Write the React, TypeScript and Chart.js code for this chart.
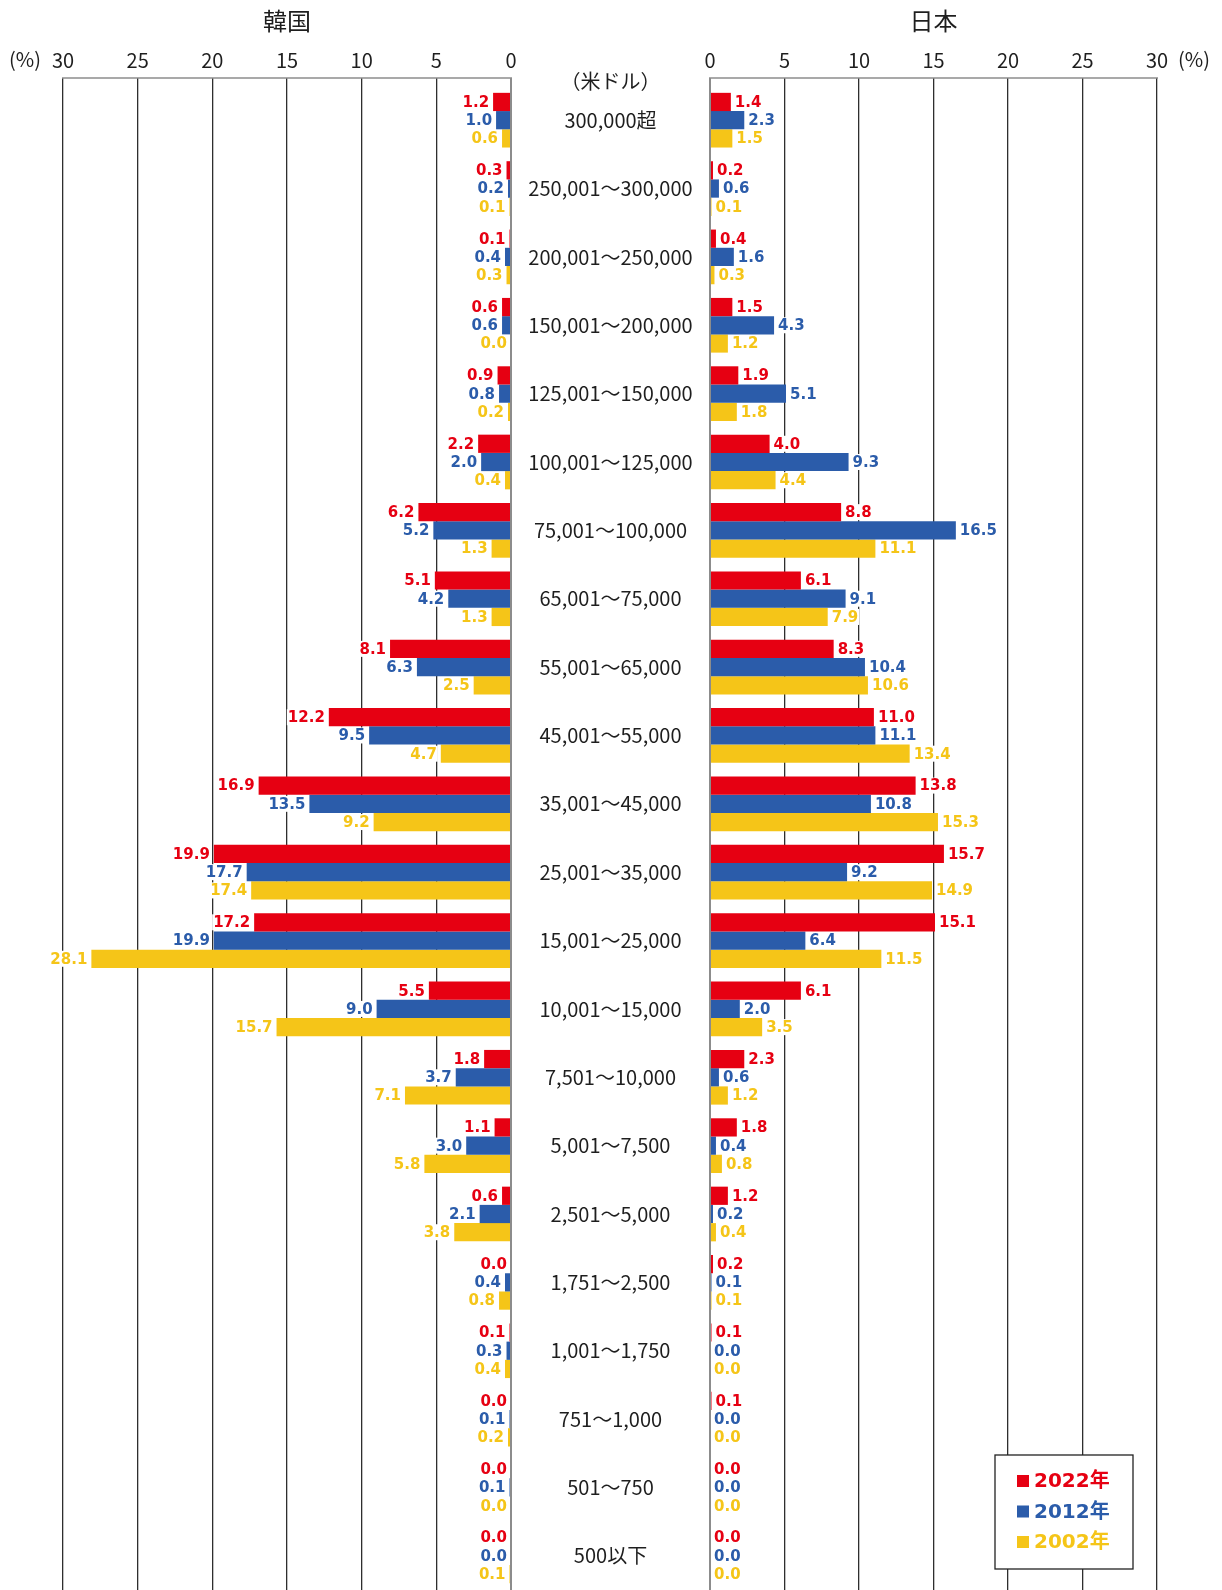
import { useEffect, useRef } from 'react';
import { Chart, registerables } from 'chart.js';

Chart.register(...registerables);

// Household income bands (US dollars), top to bottom
const incomeBands = [
  '300,000超',
  '250,001～300,000',
  '200,001～250,000',
  '150,001～200,000',
  '125,001～150,000',
  '100,001～125,000',
  '75,001～100,000',
  '65,001～75,000',
  '55,001～65,000',
  '45,001～55,000',
  '35,001～45,000',
  '25,001～35,000',
  '15,001～25,000',
  '10,001～15,000',
  '7,501～10,000',
  '5,001～7,500',
  '2,501～5,000',
  '1,751～2,500',
  '1,001～1,750',
  '751～1,000',
  '501～750',
  '500以下',
];

const years = ['2022年', '2012年', '2002年'];

// Share of households (%) — Korea
const korea2022 = [1.2, 0.3, 0.1, 0.6, 0.9, 2.2, 6.2, 5.1, 8.1, 12.2, 16.9, 19.9, 17.2, 5.5, 1.8, 1.1, 0.6, 0.0, 0.1, 0.0, 0.0, 0.0];
const korea2012 = [1.0, 0.2, 0.4, 0.6, 0.8, 2.0, 5.2, 4.2, 6.3, 9.5, 13.5, 17.7, 19.9, 9.0, 3.7, 3.0, 2.1, 0.4, 0.3, 0.1, 0.1, 0.0];
const korea2002 = [0.6, 0.1, 0.3, 0.0, 0.2, 0.4, 1.3, 1.3, 2.5, 4.7, 9.2, 17.4, 28.1, 15.7, 7.1, 5.8, 3.8, 0.8, 0.4, 0.2, 0.0, 0.1];

// Share of households (%) — Japan
const japan2022 = [1.4, 0.2, 0.4, 1.5, 1.9, 4.0, 8.8, 6.1, 8.3, 11.0, 13.8, 15.7, 15.1, 6.1, 2.3, 1.8, 1.2, 0.2, 0.1, 0.1, 0.0, 0.0];
const japan2012 = [2.3, 0.6, 1.6, 4.3, 5.1, 9.3, 16.5, 9.1, 10.4, 11.1, 10.8, 9.2, 6.4, 2.0, 0.6, 0.4, 0.2, 0.1, 0.0, 0.0, 0.0, 0.0];
const japan2002 = [1.5, 0.1, 0.3, 1.2, 1.8, 4.4, 11.1, 7.9, 10.6, 13.4, 15.3, 14.9, 11.5, 3.5, 1.2, 0.8, 0.4, 0.1, 0.0, 0.0, 0.0, 0.0];

const axisMax = 30;
const axisStep = 5;

const seriesColors = ['#E60012', '#2B5CAA', '#F5C518'];

const JP_FONT = "'Noto Sans CJK JP', 'Noto Sans', sans-serif";
const LABEL_FONT = "bold 15px 'DejaVu Sans', 'Noto Sans CJK JP', sans-serif";
const TEXT_COLOR = '#1e1e1e';
const GRID_COLOR = '#2e2e2e';
const ZERO_COLOR = '#8c8c8c';
const TICK_LEN = 8;

function makeDatasets(series: number[][]) {
  return series.map((values, i) => ({
    label: years[i],
    data: values,
    backgroundColor: seriesColors[i],
    borderWidth: 0,
    categoryPercentage: 0.8,
    barPercentage: 1.0,
  }));
}

function xScale(reverse: boolean) {
  return {
    type: 'linear' as const,
    position: 'top' as const,
    min: 0,
    max: axisMax,
    reverse,
    border: { display: false },
    grid: {
      drawTicks: true,
      tickLength: TICK_LEN,
      color: (c: any) => (c.tick && c.tick.value === 0 ? ZERO_COLOR : GRID_COLOR),
      lineWidth: (c: any) => (c.tick && c.tick.value === 0 ? 2 : 1.3),
    },
    ticks: {
      stepSize: axisStep,
      padding: 6,
      color: TEXT_COLOR,
      font: { family: JP_FONT, size: 20 },
    },
  };
}

// Value labels beside each bar end, on a white ground
const valueLabels = (side: 'left' | 'right') => ({
  id: 'valueLabels',
  afterDatasetsDraw(chart: any) {
    const ctx = chart.ctx;
    ctx.save();
    ctx.font = LABEL_FONT;
    ctx.textBaseline = 'middle';
    chart.data.datasets.forEach((ds: any, di: number) => {
      const meta = chart.getDatasetMeta(di);
      meta.data.forEach((bar: any, i: number) => {
        const text = Number(ds.data[i]).toFixed(1);
        const w = ctx.measureText(text).width;
        const x = side === 'left' ? bar.x - 4 : bar.x + 4;
        const left = side === 'left' ? x - w : x;
        ctx.fillStyle = '#ffffff';
        ctx.fillRect(left - 1, bar.y - 8, w + 2, 16);
        ctx.fillStyle = seriesColors[di];
        ctx.textAlign = side === 'left' ? 'right' : 'left';
        ctx.fillText(text, x, bar.y + 1);
      });
    });
    ctx.restore();
  },
});

function topRule(chart: any) {
  const { ctx, chartArea } = chart;
  ctx.save();
  ctx.strokeStyle = ZERO_COLOR;
  ctx.lineWidth = 1.5;
  ctx.beginPath();
  ctx.moveTo(chartArea.left - 1, chartArea.top - TICK_LEN);
  ctx.lineTo(chartArea.right + 1, chartArea.top - TICK_LEN);
  ctx.stroke();
  ctx.restore();
}

const koreaDecor = {
  id: 'koreaDecor',
  beforeDatasetsDraw(chart: any) {
    topRule(chart);
  },
  afterDraw(chart: any) {
    const { ctx, chartArea, scales } = chart;
    ctx.save();
    ctx.fillStyle = TEXT_COLOR;
    ctx.textAlign = 'center';
    ctx.textBaseline = 'middle';
    ctx.font = `24px ${JP_FONT}`;
    ctx.fillText('韓国', (chartArea.left + chartArea.right) / 2, 21);
    ctx.font = `20px ${JP_FONT}`;
    ctx.fillText('(%)', 25, 59);
    const cx = 610.5;
    ctx.fillText('（米ドル）', cx, 81);
    incomeBands.forEach((band, i) => {
      ctx.fillText(band, cx, scales.y.getPixelForValue(i));
    });
    ctx.restore();
  },
};

const japanDecor = {
  id: 'japanDecor',
  beforeDatasetsDraw(chart: any) {
    topRule(chart);
  },
  afterDraw(chart: any) {
    const { ctx, chartArea } = chart;
    ctx.save();
    ctx.fillStyle = TEXT_COLOR;
    ctx.textAlign = 'center';
    ctx.textBaseline = 'middle';
    ctx.font = `24px ${JP_FONT}`;
    ctx.fillText('日本', (chartArea.left + chartArea.right) / 2, 21);
    ctx.font = `20px ${JP_FONT}`;
    ctx.fillText('(%)', chartArea.right + 37, 59);

    // legend box
    const bx = 395;
    const by = 1455;
    const bw = 138;
    const bh = 114;
    ctx.fillStyle = '#ffffff';
    ctx.fillRect(bx, by, bw, bh);
    ctx.strokeStyle = '#222';
    ctx.lineWidth = 1.3;
    ctx.strokeRect(bx, by, bw, bh);
    ctx.textAlign = 'left';
    ctx.font = `bold 20px 'DejaVu Sans', ${JP_FONT}`;
    years.forEach((y, i) => {
      const yy = by + 26 + i * 30.5;
      ctx.fillStyle = seriesColors[i];
      ctx.fillRect(bx + 22, yy - 6, 12, 12);
      ctx.fillText(y, bx + 39, yy + 1);
    });
    ctx.restore();
  },
};

function baseOptions(reverse: boolean, padding: any) {
  return {
    indexAxis: 'y' as const,
    responsive: false,
    maintainAspectRatio: false,
    animation: false as const,
    events: [],
    layout: { padding },
    plugins: {
      legend: { display: false },
      title: { display: false },
      tooltip: { enabled: false },
    },
    scales: {
      x: xScale(reverse),
      y: {
        type: 'category' as const,
        display: false,
        grid: { display: false },
      },
    },
  };
}

export default function App() {
  const leftRef = useRef<HTMLCanvasElement>(null);
  const rightRef = useRef<HTMLCanvasElement>(null);

  useEffect(() => {
    const left = new Chart(leftRef.current!, {
      type: 'bar',
      data: { labels: incomeBands, datasets: makeDatasets([korea2022, korea2012, korea2002]) },
      options: baseOptions(true, { top: 42, left: 63, right: 189, bottom: 0 }) as any,
      plugins: [koreaDecor, valueLabels('left')],
    });
    const right = new Chart(rightRef.current!, {
      type: 'bar',
      data: { labels: incomeBands, datasets: makeDatasets([japan2022, japan2012, japan2002]) },
      options: baseOptions(false, { top: 42, left: 110, right: 65, bottom: 0 }) as any,
      plugins: [japanDecor, valueLabels('right')],
    });
    return () => {
      left.destroy();
      right.destroy();
    };
  }, []);

  return (
    <div style={{ position: 'absolute', left: 0, top: 0, width: 1222, height: 1590, background: '#ffffff', overflow: 'hidden' }}>
      <canvas ref={leftRef} width={700} height={1590} style={{ position: 'absolute', left: 0, top: 0 }} />
      <canvas ref={rightRef} width={622} height={1590} style={{ position: 'absolute', left: 600, top: 0 }} />
    </div>
  );
}
